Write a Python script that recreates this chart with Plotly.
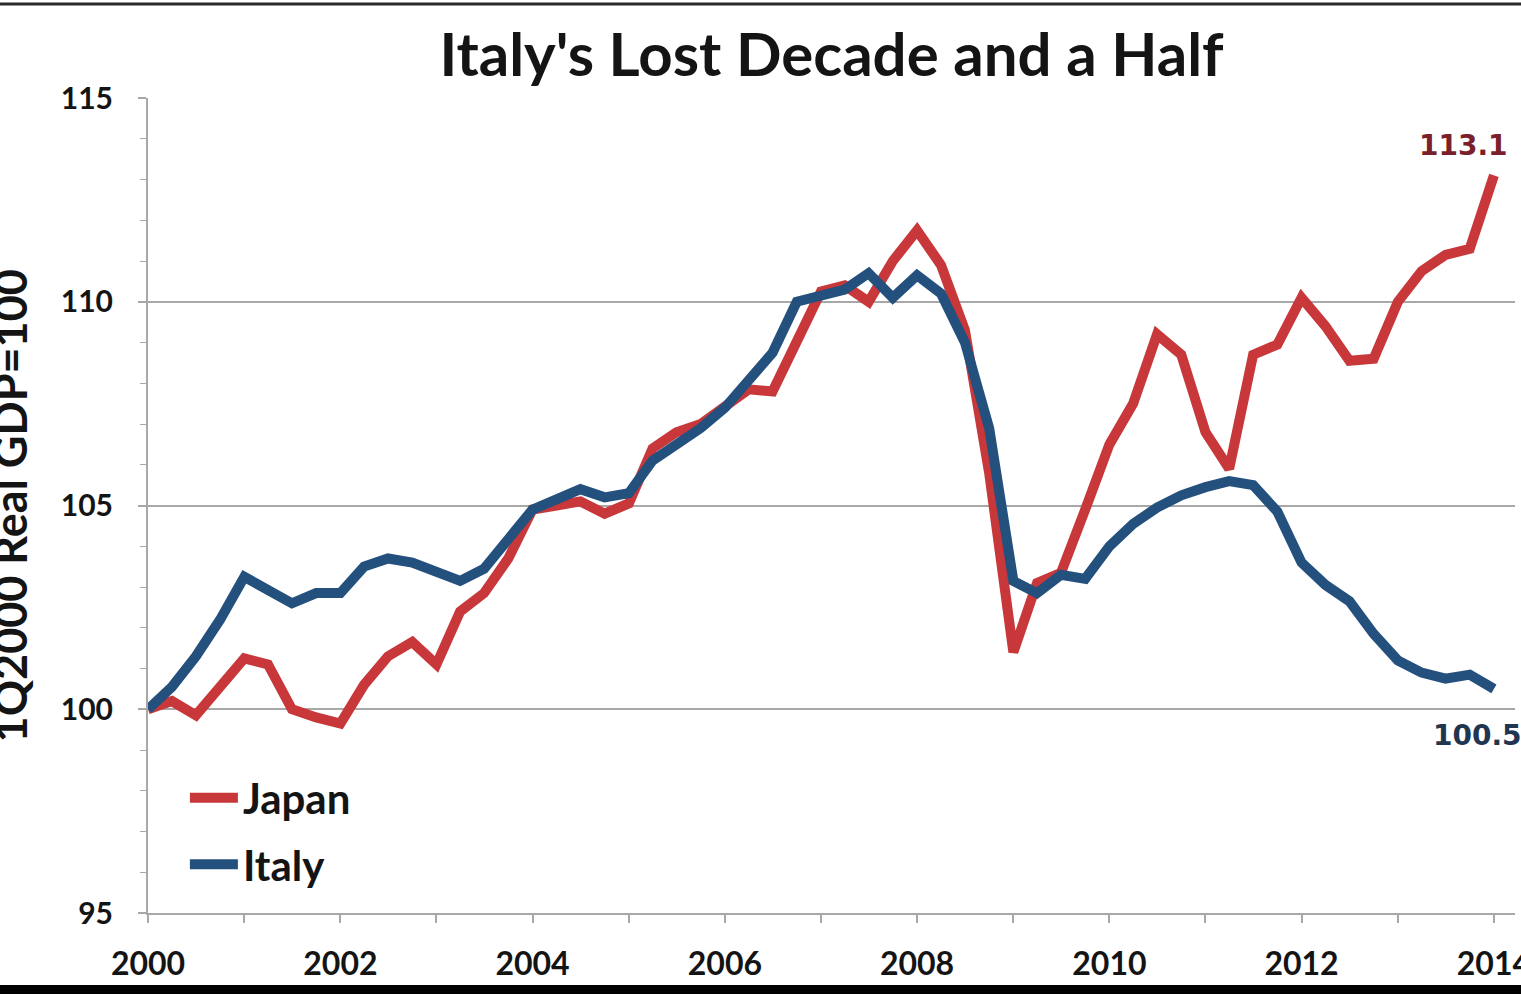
import pandas as pd
import plotly.graph_objects as go

# Quarterly real GDP index, 1Q2000 = 100
quarters = pd.period_range("2000Q1", "2014Q1", freq="Q").start_time

japan = [
    100.0, 100.2, 99.85, 100.55, 101.25, 101.1, 100.0, 99.8,
    99.65, 100.6, 101.3, 101.65, 101.1, 102.4, 102.85, 103.7,
    104.9, 105.0, 105.1, 104.8, 105.05, 106.4, 106.8, 107.0,
    107.4, 107.85, 107.8, 109.0, 110.25, 110.4, 110.0, 111.0,
    111.75, 110.9, 109.3, 105.8, 101.4, 103.1, 103.35, 104.9,
    106.5, 107.5, 109.2, 108.7, 106.8, 105.9, 108.7, 108.95,
    110.1, 109.4, 108.55, 108.6, 110.0, 110.75, 111.15, 111.3,
    113.1,
]

italy = [
    100.0, 100.55, 101.3, 102.2, 103.25, 102.9, 102.6, 102.85,
    102.85, 103.5, 103.7, 103.6, 103.35, 103.15, 103.45, 104.2,
    104.9, 105.15, 105.4, 105.2, 105.3, 106.1, 106.5, 106.9,
    107.4, 108.1, 108.75, 110.0, 110.15, 110.3, 110.7, 110.1,
    110.65, 110.2, 109.0, 106.9, 103.15, 102.85, 103.3, 103.2,
    104.0, 104.55, 104.95, 105.25, 105.45, 105.6, 105.5, 104.85,
    103.6, 103.05, 102.65, 101.85, 101.2, 100.9, 100.75, 100.85,
    100.5,
]

series_names = ["Japan", "Italy"]
series_colors = ["#C8373A", "#24507E"]
label_colors = ["#7A1F2B", "#1F3550"]

TEXT = "#141414"
GRID = "#A8A8A8"
BOLD = "Lato"

fig = go.Figure()
for name, vals, col in zip(series_names, [japan, italy], series_colors):
    fig.add_trace(go.Scatter(
        x=quarters, y=vals, name=name, mode="lines",
        line=dict(color=col, width=10),
        legendgroup=name,
    ))

# end-of-series value labels
last_x = quarters[-1]
fig.add_annotation(x=last_x, y=japan[-1], text=f"{japan[-1]:.1f}", showarrow=False,
                   xanchor="center", yanchor="bottom", xshift=-30, yshift=11,
                   font=dict(family="DejaVu Sans", size=28, color=label_colors[0], weight="bold"))
fig.add_annotation(x=last_x, y=italy[-1], text=f"{italy[-1]:.1f}", showarrow=False,
                   xanchor="center", yanchor="top", xshift=-16, yshift=-28,
                   font=dict(family="DejaVu Sans", size=28, color=label_colors[1], weight="bold"))

# vertical axis title, running off the left page edge
fig.add_annotation(xref="paper", yref="paper", x=-0.1010, y=0.5,
                   text="1Q2000 Real GDP=100", textangle=-90, showarrow=False,
                   xanchor="center", yanchor="middle",
                   font=dict(family=BOLD, size=45, color=TEXT, weight="bold"))

# frame rules at top and bottom of the page
fig.add_shape(type="line", xref="paper", yref="paper", x0=-0.12, x1=1.02, y0=1.1153, y1=1.1153,
              line=dict(color="#2a2a2a", width=3))
fig.add_shape(type="rect", xref="paper", yref="paper", x0=-0.12, x1=1.02, y0=-0.0883, y1=-0.12,
              line=dict(width=0), fillcolor="#000000")

fig.update_layout(
    width=1521, height=994,
    margin=dict(l=148, r=6, t=98, b=81, autoexpand=False),
    paper_bgcolor="white", plot_bgcolor="white",
    title=dict(text="Italy's Lost Decade and a Half", x=0.5, xref="paper", xanchor="center",
               y=1 - 55 / 994, yanchor="middle",
               font=dict(family=BOLD, size=60, color=TEXT, weight="bold")),
    legend=dict(x=0.027, y=0.183, xanchor="left", yanchor="top",
                bgcolor="rgba(0,0,0,0)", itemwidth=48, tracegroupgap=9,
                traceorder="grouped",
                font=dict(family=BOLD, size=42, color=TEXT, weight="bold")),
    xaxis=dict(
        type="date", range=["2000-01-01", "2014-03-22"], automargin=False,
        tick0="2000-01-01", dtick="M24", tickformat="%Y",
        ticks="outside", ticklen=8, tickwidth=2, tickcolor=GRID,
        showline=True, linecolor=GRID, linewidth=2,
        showgrid=False, zeroline=False,
        ticklabelstandoff=14, ticklabeloverflow="allow",
        minor=dict(dtick="M12", ticks="outside", ticklen=8, tickwidth=2, tickcolor=GRID, showgrid=False),
        tickfont=dict(family=BOLD, size=32, color=TEXT, weight="bold"),
    ),
    yaxis=dict(
        range=[95, 115], dtick=5, tick0=95, automargin=False,
        ticks="outside", ticklen=8, tickwidth=2, tickcolor=GRID,
        showline=True, linecolor=GRID, linewidth=2,
        showgrid=True, gridcolor=GRID, gridwidth=2, zeroline=False,
        ticklabelstandoff=19,
        minor=dict(dtick=1, ticks="outside", ticklen=6, tickwidth=1, tickcolor=GRID, showgrid=False),
        tickfont=dict(family=BOLD, size=30, color=TEXT, weight="bold"),
    ),
)

fig.write_html("out.html")
